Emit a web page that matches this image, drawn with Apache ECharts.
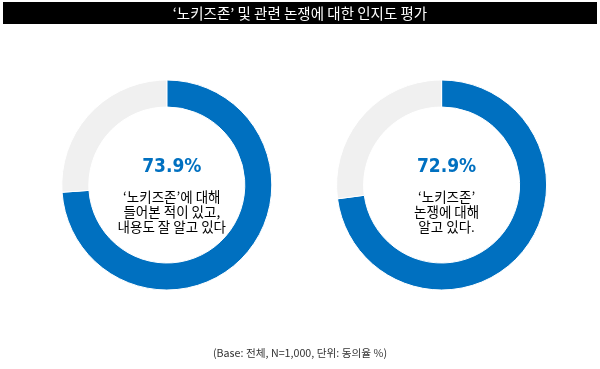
<!DOCTYPE html>
<html><head><meta charset="utf-8">
<script src="https://cdn.jsdelivr.net/npm/echarts@6/dist/echarts.min.js"></script>
<style>html,body{margin:0;padding:0;background:#fff}#c{width:600px;height:369px}</style>
</head><body><div id="c"></div>
<script>
const titleText = "‘노키즈존’ 및 관련 논쟁에 대한 인지도 평가";
const footnote = "(Base: 전체, N=1,000, 단위: 동의율 %)";
const items = ["‘노키즈존’에 대해\n들어본 적이 있고,\n내용도 잘 알고 있다", "‘노키즈존’\n논쟁에 대해\n알고 있다."];
const agreeValues = [73.9, 72.9];
const restValues = [26.1, 27.1];
const centersX = ["27.8%", "73.6%"];

const chart = echarts.init(document.getElementById('c'));
const font = "'Noto Sans CJK KR', 'Noto Sans', sans-serif";
const series = agreeValues.map((v, i) => ({
  type: 'pie',
  radius: [78, 105],
  center: [centersX[i], 185],
  startAngle: 90,
  clockwise: true,
  silent: true,
  label: {show: false},
  labelLine: {show: false},
  itemStyle: {borderColor: '#fff', borderWidth: 1},
  data: [
    {value: v, itemStyle: {color: '#0070c0'}},
    {value: restValues[i], itemStyle: {color: '#f0f0f0'}}
  ]
}));
const titles = [];
agreeValues.forEach((v, i) => {
  titles.push({
    text: v.toFixed(1) + '%', left: centersX[i], top: 153, textAlign: 'center',
    textStyle: {color: '#0070c0', fontSize: 19, fontWeight: 'bold', fontFamily: "'Liberation Sans Narrow', 'DejaVu Sans Condensed', sans-serif"}
  });
  titles.push({
    text: items[i], left: centersX[i], top: 184, textAlign: 'center',
    textStyle: {color: '#000', fontSize: 13.5, fontWeight: 'normal', lineHeight: 15, fontFamily: font}
  });
});
titles.push({
  text: footnote, left: 'center', top: 343,
  textStyle: {color: '#333', fontSize: 10.7, fontWeight: 'normal', fontFamily: font}
});
chart.setOption({
  animation: false,
  graphic: [{
    type: 'rect', shape: {x: 3, y: 2, width: 594, height: 22}, style: {fill: '#000'}
  }, {
    type: 'text', x: 300, y: 13, style: {text: titleText, fill: '#fff', fontSize: 14.5, fontWeight: 'normal', fontFamily: font, align: 'center', verticalAlign: 'middle'}
  }],
  title: titles,
  series: series
});
</script></body></html>
